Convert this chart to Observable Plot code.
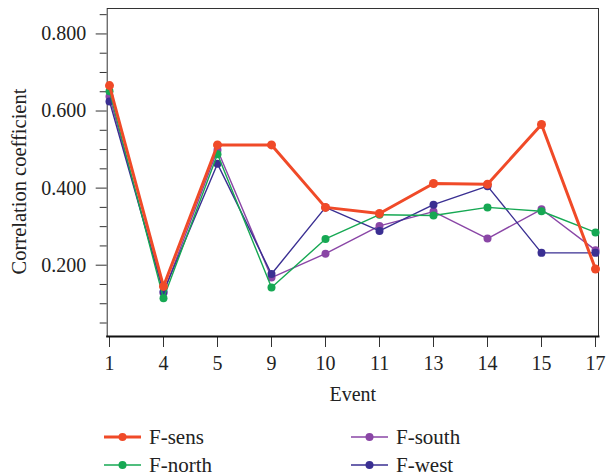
<!DOCTYPE html>
<html>
<head>
<meta charset="utf-8">
<script src="https://cdn.jsdelivr.net/npm/d3@7"></script>
<script src="https://cdn.jsdelivr.net/npm/@observablehq/plot@0.6"></script>
<style>
  body { margin: 0; background: #fff; }
  #wrap { position: relative; width: 608px; height: 476px; font-family: "Liberation Serif", serif; }
  .leg { position: absolute; display: flex; align-items: center; font-size: 21px; color: #222; }
  .leg svg { margin-right: 8px; }
</style>
</head>
<body>
<div id="wrap"><div id="chart"></div></div>
<script>
const events = ["1", "4", "5", "9", "10", "11", "13", "14", "15", "17"];
const seriesNames = ["F-sens", "F-north", "F-south", "F-west"];
const seriesColors = ["#f04a28", "#16a853", "#8a46a6", "#3a2f92"];
const fSens  = [0.666, 0.145, 0.512, 0.512, 0.350, 0.334, 0.412, 0.410, 0.565, 0.190];
const fNorth = [0.651, 0.114, 0.488, 0.142, 0.268, 0.331, 0.329, 0.350, 0.340, 0.285];
const fSouth = [0.638, 0.128, 0.499, 0.168, 0.230, 0.302, 0.339, 0.269, 0.345, 0.239];
const fWest  = [0.625, 0.131, 0.463, 0.177, 0.350, 0.289, 0.357, 0.405, 0.232, 0.232];
const majorTicks = [0.2, 0.4, 0.6, 0.8];
const minorTicks = [0.05, 0.1, 0.15, 0.25, 0.3, 0.35, 0.45, 0.5, 0.55, 0.65, 0.7, 0.75, 0.85];

const seriesValues = [fSens, fNorth, fSouth, fWest];
const rows = (i) => events.map((e, j) => ({event: e, value: seriesValues[i][j], series: seriesNames[i]}));
const drawOrder = [2, 3, 1, 0]; // south, west, north, sens on top

const lineMarks = drawOrder.flatMap(i => [
  Plot.line(rows(i), {x: "event", y: "value", stroke: seriesColors[i], strokeWidth: i === 0 ? 3 : 1.4}),
  Plot.dot(rows(i), {x: "event", y: "value", fill: seriesColors[i], r: i === 0 ? 4.5 : 4})
]);

const H = 412;
const chart = Plot.plot({
  width: 608,
  height: H,
  marginLeft: 106.7,
  marginRight: 10,
  marginTop: 8,
  marginBottom: H - 336,
  x: {type: "point", domain: events, padding: 0},
  y: {domain: [0.015, 0.866]},
  style: {fontFamily: "Liberation Serif, serif", fontSize: "20px", color: "#222", background: "#fff"},
  marks: [
    Plot.frame({stroke: "#333", strokeWidth: 1}),
    Plot.axisY({ticks: minorTicks, tickSize: 7, tickFormat: () => "", label: null, stroke: "#333"}),
    Plot.axisY({ticks: majorTicks, tickSize: 11, tickPadding: 10, tickFormat: d3.format(".3f"), label: null, stroke: "#333", fontSize: 20}),
    Plot.axisX({tickSize: 11, tickPadding: 8, label: null, stroke: "#333", fontSize: 20}),
    Plot.frame({anchor: "bottom", stroke: "#111", strokeWidth: 2}),
    ...lineMarks,
    Plot.text(["Event"], {frameAnchor: "bottom", dy: 58, lineAnchor: "middle", textAnchor: "middle", fontSize: 20, fill: "#222"}),
    Plot.text(["Correlation coefficient"], {frameAnchor: "left", rotate: -90, dx: -88, dy: 9, lineAnchor: "middle", textAnchor: "middle", fontSize: 20.5, fill: "#222"})
  ]
});
document.getElementById("chart").appendChild(chart);

// Legend below the SVG
const wrap = document.getElementById("wrap");
const legendPos = [
  {i: 0, left: 104, top: 437},
  {i: 1, left: 104, top: 465},
  {i: 2, left: 351, top: 437},
  {i: 3, left: 351, top: 465}
];
legendPos.forEach(({i, left, top}) => {
  const div = document.createElement("div");
  div.className = "leg";
  div.style.left = left + "px";
  div.style.top = (top - 12) + "px";
  div.style.height = "24px";
  const sw = i === 0 ? 3 : 1.6;
  div.innerHTML = `<svg width="37" height="12"><line x1="0" x2="37" y1="6" y2="6" stroke="${seriesColors[i]}" stroke-width="${sw}"/><circle cx="18.5" cy="6" r="4" fill="${seriesColors[i]}"/></svg><span>${seriesNames[i]}</span>`;
  wrap.appendChild(div);
});
</script>
</body>
</html>
